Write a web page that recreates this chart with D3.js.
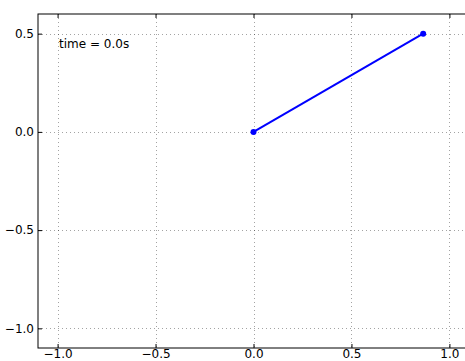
<!DOCTYPE html>
<html><head><meta charset="utf-8">
<script src="https://cdn.jsdelivr.net/npm/d3@7"></script>
<style>html,body{margin:0;padding:0;background:#fff;}svg{display:block;}</style>
</head><body><svg id="c" width="465" height="361"></svg>
<script>
const xTicks = [-1.0, -0.5, 0.0, 0.5, 1.0];
const yTicks = [-1.0, -0.5, 0.0, 0.5];
const xDomain = [-1.1, 1.1];
const yDomain = [-1.1, 0.6];
const pendX = [0.0, 0.866];
const pendY = [0.0, 0.5];
const timeLabel = "time = 0.0s";

const svg = d3.select("#c");
const L = 38, T = 14, R = 469, B = 348;
const x = d3.scaleLinear().domain(xDomain).range([L, R]);
const y = d3.scaleLinear().domain(yDomain).range([B, T]);
const fmt = v => (v < 0 ? "\u2212" : "") + Math.abs(v).toFixed(1);
const font = "DejaVu Sans, sans-serif";

// grid
const g = svg.append("g");
g.selectAll(".gx").data(xTicks).join("line")
  .attr("x1", d => Math.round(x(d)) + 0.5).attr("x2", d => Math.round(x(d)) + 0.5)
  .attr("y1", T).attr("y2", B)
  .attr("stroke", "#000").attr("stroke-width", 0.6).attr("stroke-dasharray", "1,3").attr("opacity", 0.6);
g.selectAll(".gy").data(yTicks).join("line")
  .attr("y1", d => Math.round(y(d)) + 0.5).attr("y2", d => Math.round(y(d)) + 0.5)
  .attr("x1", L).attr("x2", R)
  .attr("stroke", "#000").attr("stroke-width", 0.6).attr("stroke-dasharray", "1,3").attr("opacity", 0.6);

// axes with inward ticks
const xb = svg.append("g").attr("transform", `translate(0,${B})`)
  .call(d3.axisBottom(x).tickValues(xTicks).tickFormat(fmt).tickSizeInner(-4).tickSizeOuter(0).tickPadding(1));
const xt = svg.append("g").attr("transform", `translate(0,${T})`)
  .call(d3.axisTop(x).tickValues(xTicks).tickFormat("").tickSizeInner(-4).tickSizeOuter(0));
const yl = svg.append("g").attr("transform", `translate(${L},0)`)
  .call(d3.axisLeft(y).tickValues(yTicks).tickFormat(fmt).tickSizeInner(-4).tickSizeOuter(0).tickPadding(4));
const yr = svg.append("g").attr("transform", `translate(${R},0)`)
  .call(d3.axisRight(y).tickValues(yTicks).tickFormat("").tickSizeInner(-4).tickSizeOuter(0));
[xb, xt, yl, yr].forEach(a => {
  a.selectAll(".domain").remove();
  a.selectAll("text").attr("font-family", font).attr("font-size", 12).attr("fill", "#000");
  a.selectAll("line").attr("stroke", "#000");
});
// d3 places left labels at -max(inner,0)-padding; fine. Bottom label dy
xb.selectAll("text").attr("y", 1).attr("dy", "0.71em");

// frame
svg.append("rect").attr("x", L).attr("y", T).attr("width", R - L).attr("height", B - T)
  .attr("fill", "none").attr("stroke", "#000").attr("stroke-width", 1);

// pendulum
const pts = pendX.map((v, i) => [v, pendY[i]]);
svg.append("path").datum(pts)
  .attr("d", d3.line().x(d => x(d[0])).y(d => y(d[1])))
  .attr("stroke", "#0000ff").attr("stroke-width", 2).attr("fill", "none");
svg.selectAll(".pt").data(pts).join("circle")
  .attr("cx", d => x(d[0])).attr("cy", d => y(d[1])).attr("r", 3)
  .attr("fill", "#0000ff");

// time text
svg.append("text").attr("x", x(-1.1) + 21).attr("y", y(0.6) + 34)
  .attr("font-family", font).attr("font-size", 12).text(timeLabel);
</script></body></html>
